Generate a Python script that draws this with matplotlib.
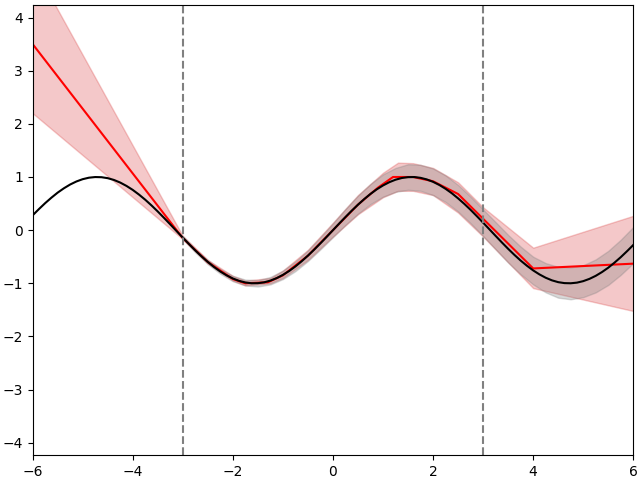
import matplotlib
matplotlib.use("Agg")
import matplotlib.pyplot as plt

# true function (step 0.125)
x_true = [-6.0 + 0.125 * i for i in range(97)]
y_true = [0.279, 0.396, 0.508, 0.611, 0.706, 0.788, 0.859, 0.916, 0.959, 0.987, 0.999, 0.996,
          0.978, 0.944, 0.895, 0.832, 0.757, 0.669, 0.572, 0.465, 0.351, 0.231, 0.108, -0.017,
          -0.141, -0.263, -0.382, -0.494, -0.598, -0.694, -0.778, -0.850, -0.909, -0.954, -0.984, -0.999,
          -0.997, -0.981, -0.949, -0.902, -0.841, -0.768, -0.682, -0.585, -0.479, -0.366, -0.247, -0.125,
          0.0,
          0.125, 0.247, 0.366, 0.479, 0.585, 0.682, 0.768, 0.841, 0.902, 0.949, 0.981, 0.997,
          0.999, 0.984, 0.954, 0.909, 0.850, 0.778, 0.694, 0.598, 0.494, 0.382, 0.263, 0.141,
          0.017, -0.108, -0.231, -0.351, -0.465, -0.572, -0.669, -0.757, -0.832, -0.895, -0.944, -0.978,
          -0.996, -0.999, -0.987, -0.959, -0.916, -0.859, -0.788, -0.706, -0.611, -0.508, -0.396, -0.279]

# gray band around the true function
x_gray = [-3.0 + 0.25 * i for i in range(37)]
gray_lo = [-0.17, -0.42, -0.64, -0.82, -0.96, -1.04, -1.06, -1.02, -0.92, -0.77, -0.58, -0.36,
           -0.13, 0.10, 0.31, 0.49, 0.63, 0.72, 0.76, 0.74, 0.66, 0.53, 0.35, 0.13,
           -0.11, -0.36, -0.61, -0.83, -1.02, -1.17, -1.27, -1.30, -1.26, -1.17, -1.03, -0.84, -0.62]
gray_hi = [-0.11, -0.35, -0.56, -0.73, -0.86, -0.93, -0.94, -0.88, -0.76, -0.59, -0.38, -0.13,
           0.13, 0.40, 0.65, 0.87, 1.05, 1.17, 1.24, 1.23, 1.16, 1.03, 0.85, 0.63,
           0.39, 0.15, -0.09, -0.31, -0.50, -0.62, -0.69, -0.70, -0.66, -0.55, -0.39, -0.18, 0.06]

# model prediction (red)
x_pred = [-6.0, -3.0, -2.5, -2.0, -1.75, -1.3, -1.0, -0.5, 0.0, 0.5, 0.9, 1.2, 1.6, 2.0, 2.5, 4.0, 6.0]
y_pred = [3.5, -0.15, -0.6, -0.92, -1.0, -0.98, -0.85, -0.48, 0.0, 0.48, 0.8, 1.0, 1.0, 0.92, 0.68, -0.72, -0.63]

x_band = [-6.0, -3.0, -2.5, -2.0, -1.75, -1.25, -1.0, -0.5, 0.0, 0.5, 1.0, 1.3, 1.6, 2.0, 2.5, 3.0, 4.0, 6.0]
band_lo = [2.2, -0.17, -0.63, -0.95, -1.04, -1.0, -0.9, -0.56, -0.12, 0.30, 0.62, 0.74, 0.74, 0.66, 0.33, -0.12, -1.09, -1.52]
band_hi = [5.0, -0.11, -0.56, -0.86, -0.95, -0.90, -0.76, -0.37, 0.14, 0.66, 1.08, 1.27, 1.26, 1.17, 0.90, 0.43, -0.33, 0.27]

train_edges = [-3, 3]

plt.figure(figsize=(6.4, 4.8), dpi=100)
plt.fill_between(x_band, band_lo, band_hi, color='tab:red', alpha=0.25)
plt.fill_between(x_gray, gray_lo, gray_hi, color='gray', alpha=0.3)
plt.plot(x_pred, y_pred, 'r')
plt.plot(x_true, y_true, 'k')
for xe in train_edges:
    plt.axvline(xe, color='gray', linestyle='--')
plt.xlim(-6, 6)
plt.ylim(-4.23, 4.23)
plt.subplots_adjust(left=0.051, right=0.9895, bottom=0.052, top=0.989)
plt.savefig("out.png")
